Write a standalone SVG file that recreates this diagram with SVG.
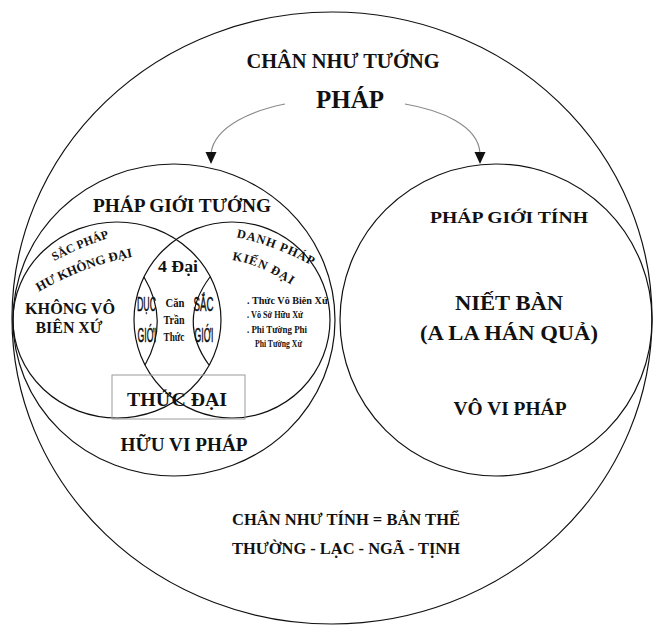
<svg xmlns="http://www.w3.org/2000/svg" width="656" height="626" viewBox="0 0 656 626">
<defs>
<style>
.ln{fill:none;stroke:#111;stroke-width:1.2}
.t{font-family:"Liberation Serif","Times New Roman",serif;font-weight:bold;fill:#111;text-anchor:middle}
.n{font-family:"Liberation Serif","Times New Roman",serif;font-weight:bold;fill:#111;text-anchor:middle;font-size:13px}
.c{font-family:"Liberation Sans Narrow","Liberation Sans",Arial,sans-serif;font-weight:normal;fill:#111;stroke:#111;stroke-width:0.5;text-anchor:middle;font-size:21px}
.l{font-family:"Liberation Serif","Times New Roman",serif;font-weight:bold;fill:#111;font-size:10.5px}
.arr{fill:none;stroke:#8a8a8a;stroke-width:1.2}
</style>
<path id="pSac" d="M 49 264 Q 81 246 115 236"/>
<path id="pHu" d="M 35 294 Q 84 265 137 256"/>
<path id="pDanh" d="M 234 237 Q 272 244 315 267"/>
<path id="pKien" d="M 231 260 Q 258 263 293 286"/>
</defs>
<rect width="656" height="626" fill="#fff"/>

<g id="outer">
<ellipse class="ln" cx="332" cy="318" rx="320" ry="306" stroke-width="1.3"/>
<text class="t" x="343" y="68" font-size="20" textLength="193" lengthAdjust="spacingAndGlyphs">CHÂN NHƯ TƯỚNG</text>
<text class="t" x="350" y="108" font-size="25" textLength="68" lengthAdjust="spacingAndGlyphs">PHÁP</text>
<text class="t" x="346" y="525" font-size="16" textLength="228" lengthAdjust="spacingAndGlyphs">CHÂN NHƯ TÍNH = BẢN THỂ</text>
<text class="t" x="346" y="554" font-size="16" textLength="228" lengthAdjust="spacingAndGlyphs">THƯỜNG - LẠC - NGÃ - TỊNH</text>
</g>

<g id="phap-gioi-tuong">
<ellipse class="ln" cx="174" cy="320" rx="161" ry="156"/>
<text class="t" x="182" y="212" font-size="18" textLength="178" lengthAdjust="spacingAndGlyphs">PHÁP GIỚI TƯỚNG</text>
<text class="t" x="184" y="451" font-size="19" textLength="127" lengthAdjust="spacingAndGlyphs">HỮU VI PHÁP</text>
</g>

<g id="sac-phap">
<ellipse class="ln" cx="117" cy="320" rx="104" ry="98"/>
<text class="t" font-size="12"><textPath href="#pSac" startOffset="50%">SẮC PHÁP</textPath></text>
<text class="t" font-size="13"><textPath href="#pHu" startOffset="50%">HƯ KHÔNG  ĐẠI</textPath></text>
<text class="t" x="70" y="314" font-size="16" textLength="90" lengthAdjust="spacingAndGlyphs">KHÔNG VÔ</text>
<text class="t" x="69" y="333" font-size="16" textLength="67" lengthAdjust="spacingAndGlyphs">BIÊN XỨ</text>
</g>

<g id="danh-phap">
<ellipse class="ln" cx="232" cy="320" rx="98" ry="98"/>
<text class="t" font-size="12.5" letter-spacing="0.9"><textPath href="#pDanh" startOffset="50%">DANH PHÁP</textPath></text>
<text class="t" font-size="12.5" letter-spacing="0.9"><textPath href="#pKien" startOffset="50%">KIẾN ĐẠI</textPath></text>
<text class="l" x="247" y="304" textLength="81" lengthAdjust="spacingAndGlyphs">. Thức Vô Biên Xứ</text>
<text class="l" x="247" y="318" textLength="56" lengthAdjust="spacingAndGlyphs">. Vô Sở Hữu Xứ</text>
<text class="l" x="247" y="333" textLength="60" lengthAdjust="spacingAndGlyphs">. Phi Tường Phi</text>
<text class="l" x="255" y="347" textLength="47" lengthAdjust="spacingAndGlyphs">Phi Tường Xứ</text>
</g>

<g id="tu-dai">
<text class="t" x="178" y="272" font-size="16" textLength="40" lengthAdjust="spacingAndGlyphs">4 Đại</text>
<text class="n" transform="translate(175,307) scale(0.8,1)" textLength="23.7" lengthAdjust="spacingAndGlyphs">Căn</text>
<text class="n" transform="translate(174,324) scale(0.8,1)" textLength="26.2" lengthAdjust="spacingAndGlyphs">Trần</text>
<text class="n" transform="translate(174,341) scale(0.8,1)" textLength="26.2" lengthAdjust="spacingAndGlyphs">Thức</text>
</g>

<g id="duc-gioi">
<path class="ln" d="M 144 277 Q 170 321 145 365"/>
<text class="c" transform="translate(146.5,311) scale(0.5,1)" textLength="38" lengthAdjust="spacingAndGlyphs">DỤC</text>
<text class="c" transform="translate(147,342) scale(0.5,1)" textLength="38" lengthAdjust="spacingAndGlyphs">GIỚI</text>
</g>

<g id="sac-gioi">
<path class="ln" d="M 210 277 Q 177 321 209 365"/>
<text class="c" transform="translate(203.5,311) scale(0.5,1)" textLength="40" lengthAdjust="spacingAndGlyphs">SẮC</text>
<text class="c" transform="translate(204,342) scale(0.5,1)" textLength="38" lengthAdjust="spacingAndGlyphs">GIỚI</text>
</g>

<g id="thuc-dai">
<rect x="112" y="375" width="133" height="44" fill="none" stroke="#9a9a9a" stroke-width="1"/>
<text class="t" x="177" y="406" font-size="19" textLength="100" lengthAdjust="spacingAndGlyphs">THỨC ĐẠI</text>
</g>

<g id="phap-gioi-tinh">
<ellipse class="ln" cx="496" cy="320" rx="156" ry="156"/>
<text class="t" x="509" y="223" font-size="17" textLength="158" lengthAdjust="spacingAndGlyphs">PHÁP GIỚI TÍNH</text>
<text class="t" x="509" y="310" font-size="21" textLength="108" lengthAdjust="spacingAndGlyphs">NIẾT BÀN</text>
<text class="t" x="509" y="340" font-size="21" textLength="178" lengthAdjust="spacingAndGlyphs">(A LA HÁN QUẢ)</text>
<text class="t" x="510" y="415" font-size="18" textLength="113" lengthAdjust="spacingAndGlyphs">VÔ VI PHÁP</text>
</g>

<g id="connectors">
<path class="arr" d="M 285 104 C 255 110 215 125 211 153"/>
<polygon points="205.5,152 216.5,152 211,164" fill="#111"/>
<path class="arr" d="M 405 104 C 440 110 478 125 480 153"/>
<polygon points="474.5,152 485.5,152 480,164" fill="#111"/>
</g>
</svg>
